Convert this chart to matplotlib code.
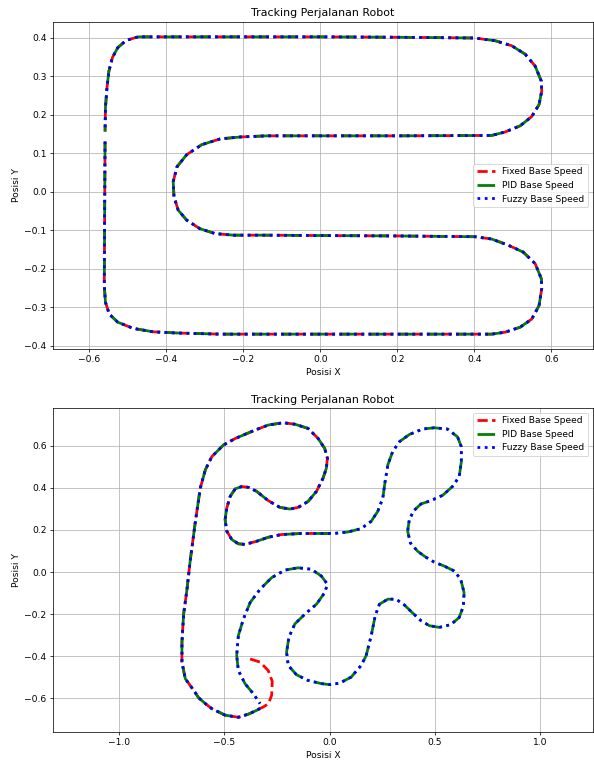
import matplotlib
matplotlib.use('Agg')
import matplotlib.pyplot as plt

# Lintasan 1 (bentuk E) - ketiga metode hampir berimpit
e_x = [-0.559, -0.560, -0.561, -0.558, -0.548, -0.526, -0.486, -0.434, -0.373, -0.26, 0.0, 0.21,
       0.445, 0.48, 0.519, 0.549, 0.568, 0.575, 0.574, 0.558, 0.527, 0.488, 0.445, 0.401, 0.2, 0.0,
       -0.138, -0.225, -0.273, -0.313, -0.347, -0.369, -0.38, -0.382, -0.372, -0.347, -0.308, -0.26,
       -0.208, -0.138, 0.0, 0.214, 0.445, 0.48, 0.519, 0.549, 0.568, 0.575, 0.574, 0.558, 0.532,
       0.497, 0.454, 0.401, 0.2, 0.0, -0.2, -0.434, -0.473, -0.504, -0.526, -0.540, -0.549, -0.554,
       -0.558, -0.559]
e_y = [0.13, -0.05, -0.244, -0.287, -0.318, -0.339, -0.355, -0.364, -0.367, -0.37, -0.37, -0.37,
       -0.37, -0.365, -0.352, -0.331, -0.296, -0.252, -0.226, -0.187, -0.157, -0.139, -0.123, -0.117,
       -0.115, -0.114, -0.113, -0.113, -0.109, -0.096, -0.074, -0.048, -0.013, 0.026, 0.065, 0.096,
       0.122, 0.137, 0.142, 0.145, 0.145, 0.145, 0.146, 0.155, 0.171, 0.195, 0.226, 0.261, 0.287,
       0.326, 0.357, 0.379, 0.392, 0.399, 0.401, 0.402, 0.402, 0.402, 0.402, 0.393, 0.374, 0.348,
       0.313, 0.27, 0.218, 0.156]

# Lintasan 2 - loop luar + loop atas + jalur tengah (dilalui semua metode)
loop_x = [-0.33, -0.346, -0.385, -0.433, -0.496, -0.559, -0.59, -0.622, -0.645, -0.685, -0.701,
          -0.701, -0.693, -0.677, -0.661, -0.637, -0.614, -0.59, -0.559, -0.504, -0.448, -0.354,
          -0.291, -0.22, -0.165, -0.102, -0.054, -0.023, -0.010, -0.015, -0.031, -0.062, -0.102,
          -0.149, -0.188, -0.236, -0.291, -0.346, -0.385, -0.417, -0.448, -0.472, -0.488, -0.496,
          -0.488, -0.464, -0.433, -0.401, -0.346, -0.291, -0.228, -0.133, -0.023, 0.0]
loop_y = [-0.648, -0.657, -0.675, -0.690, -0.680, -0.649, -0.625, -0.597, -0.562, -0.507, -0.428,
          -0.334, -0.2, -0.082, 0.06, 0.241, 0.398, 0.485, 0.548, 0.603, 0.634, 0.674, 0.698, 0.709,
          0.702, 0.682, 0.634, 0.587, 0.54, 0.493, 0.445, 0.383, 0.335, 0.307, 0.299, 0.307, 0.339,
          0.383, 0.402, 0.406, 0.395, 0.359, 0.304, 0.249, 0.194, 0.154, 0.134, 0.131, 0.146, 0.165,
          0.178, 0.183, 0.183, 0.183]

# Fixed: mulai dari loop kecil di bawah
fixed_start_x = [-0.377, -0.33, -0.291, -0.272, -0.275, -0.29, -0.314]
fixed_start_y = [-0.413, -0.428, -0.468, -0.52, -0.586, -0.625, -0.641]

# PID / Fuzzy: bagian kanan + bentuk C bawah
right_x = [0.02, 0.087, 0.15, 0.198, 0.229, 0.253, 0.264, 0.277, 0.3, 0.332, 0.379, 0.442, 0.497,
           0.56, 0.608, 0.626, 0.626, 0.616, 0.584, 0.537, 0.481, 0.434, 0.4, 0.379, 0.371, 0.384,
           0.418, 0.455, 0.497, 0.545, 0.592, 0.623, 0.639, 0.636, 0.616, 0.576, 0.521, 0.474, 0.434,
           0.395, 0.356, 0.316, 0.277, 0.237, 0.217, 0.198, 0.174, 0.15, 0.103, 0.048, 0.0, -0.039,
           -0.102, -0.157, -0.196, -0.204, -0.193, -0.165, -0.117, -0.062, -0.023, -0.010, -0.039,
           -0.086, -0.149, -0.212, -0.275, -0.33, -0.377, -0.409, -0.433, -0.441, -0.433, -0.401,
           -0.362, -0.33]
right_y = [0.183, 0.19, 0.206, 0.241, 0.288, 0.351, 0.43, 0.509, 0.572, 0.619, 0.653, 0.679, 0.685,
           0.679, 0.642, 0.595, 0.524, 0.453, 0.406, 0.364, 0.339, 0.323, 0.291, 0.249, 0.194, 0.138,
           0.099, 0.072, 0.047, 0.028, 0.005, -0.034, -0.098, -0.161, -0.216, -0.25, -0.263, -0.255,
           -0.231, -0.195, -0.157, -0.129, -0.129, -0.153, -0.208, -0.302, -0.397, -0.444, -0.499,
           -0.528, -0.535, -0.53, -0.515, -0.488, -0.444, -0.381, -0.31, -0.247, -0.2, -0.153, -0.098,
           -0.058, -0.019, 0.013, 0.02, 0.009, -0.027, -0.082, -0.145, -0.223, -0.302, -0.397, -0.468,
           -0.531, -0.578, -0.625]

fixed_x = fixed_start_x + loop_x
fixed_y = fixed_start_y + loop_y
pid_x = loop_x + right_x
pid_y = loop_y + right_y
fuzzy_x = loop_x + right_x
fuzzy_y = loop_y + right_y

fig = plt.figure(figsize=(9, 765 / 66), dpi=66)

# Plot 1
ax1 = fig.add_axes([53 / 594, 1 - 349 / 765, 540 / 594, 327 / 765])
ax1.plot(e_x, e_y, 'r--', linewidth=3, label='Fixed Base Speed')
ax1.plot(e_x, e_y, 'g-.', linewidth=3, label='PID Base Speed')
ax1.plot(e_x, e_y, 'b:', linewidth=3, label='Fuzzy Base Speed')
ax1.set_title('Tracking Perjalanan Robot')
ax1.set_xlabel('Posisi X')
ax1.set_ylabel('Posisi Y')
ax1.axis('equal')
ax1.grid(True)
ax1.legend(loc='center right')

# Plot 2
ax2 = fig.add_axes([53 / 594, 1 - 732 / 765, 540 / 594, 324 / 765])
ax2.plot(fixed_x, fixed_y, 'r--', linewidth=3, label='Fixed Base Speed')
ax2.plot(pid_x, pid_y, 'g-.', linewidth=3, label='PID Base Speed')
ax2.plot(fuzzy_x, fuzzy_y, 'b:', linewidth=3, label='Fuzzy Base Speed')
ax2.set_title('Tracking Perjalanan Robot')
ax2.set_xlabel('Posisi X')
ax2.set_ylabel('Posisi Y')
ax2.axis('equal')
ax2.grid(True)
ax2.legend(loc='upper right')

fig.savefig('out.png', dpi=66)
